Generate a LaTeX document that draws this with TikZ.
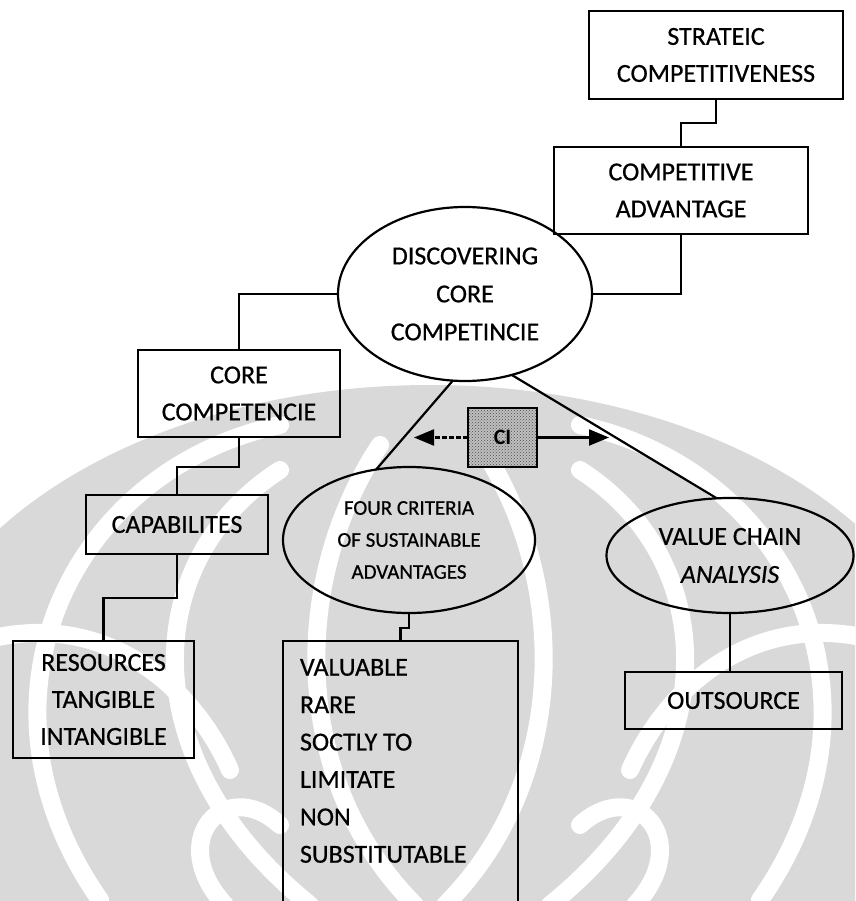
\documentclass[tikz,border=0pt]{standalone}
\usepackage{fontspec}
\setmainfont{Carlito}[UprightFeatures={FakeBold=0.6}, ItalicFeatures={FakeBold=0.6}]
\usetikzlibrary{shapes.geometric,arrows.meta,patterns}

\begin{document}
\begin{tikzpicture}[x=1pt,y=-1pt,
  line width=2.2pt,
  every node/.style={inner sep=0pt, outer sep=0pt},
  box/.style={draw, rectangle, align=center, font=\fontsize{26}{37}\selectfont},
  oval/.style={draw, ellipse, align=center, font=\fontsize{26}{38}\selectfont},
  link/.style={line width=2.2pt},
  tip/.style={-{Triangle[length=20pt,width=16pt]}},
  wm/.style={draw=white, line width=18pt, line cap=round},
]
\useasboundingbox (0,0) rectangle (855,901);
\clip (0,0) rectangle (855,901);

% light emblem in the background
\fill[black!15] (430,730) ellipse [x radius=530, y radius=345];
\foreach \s in {1,-1}{
  \begin{scope}[shift={(430,0)}, xscale=\s]
    \draw[wm] (-330,900) .. controls (-470,700) and (-360,470) .. (-150,425);
    \draw[wm] (-120,905) .. controls (-300,760) and (-290,560) .. (-150,470);
    \draw[wm] (-15,905) .. controls (-140,780) and (-140,580) .. (-50,445);
    \draw[wm] (-205,905) .. controls (-265,840) and (-205,775) .. (-150,825);
    \draw[wm] (-445,640) .. controls (-330,610) and (-240,680) .. (-200,770);
  \end{scope}
}

% boxes
\node[box, minimum width=254, minimum height=88] (strat) at (716,55)
  {STRATEIC\\COMPETITIVENESS};
\node[box, minimum width=254, minimum height=87] (comp) at (681,190.5)
  {COMPETITIVE\\ADVANTAGE};
\node[oval, minimum width=254, minimum height=174] (disc) at (465,294)
  {DISCOVERING\\CORE\\COMPETINCIE};
\node[box, minimum width=202, minimum height=87] (core) at (239,393.5)
  {CORE\\COMPETENCIE};
\node[box, minimum width=182, minimum height=59] (cap) at (177,524.5)
  {CAPABILITES};
\node[box, minimum width=181, minimum height=117] (res) at (103.5,699.5)
  {RESOURCES\\TANGIBLE\\INTANGIBLE};
\node[oval, minimum width=252, minimum height=146, font=\fontsize{21}{32}\selectfont]
  (four) at (409,540) {FOUR CRITERIA\\OF SUSTAINABLE\\ADVANTAGES};
\node[oval, minimum width=247, minimum height=115] (value) at (730,555.5)
  {VALUE CHAIN\\\textit{ANALYSIS}};
\node[box, minimum width=217, minimum height=57] (out) at (733.5,700.5)
  {OUTSOURCE};
\node[draw, rectangle, anchor=north west, minimum width=235, minimum height=300]
  (crit) at (283,641) {};
\node[anchor=north west, align=left, font=\fontsize{26}{37.4}\selectfont]
  (critlist) at (300,659)
  {VALUABLE\\RARE\\SOCTLY TO\\LIMITATE\\NON\\SUBSTITUTABLE};
\node[draw, rectangle, minimum width=69, minimum height=59,
  preaction={fill=black!25}, pattern=crosshatch dots, pattern color=black!70,
  font=\bfseries\fontsize{22}{22}\selectfont] (ci) at (502.5,437.5) {CI};

% arrow ends
\coordinate (lt) at (414,437.5);
\coordinate (rt) at (609,437.5);

% connectors
\draw[link] (strat.south) -- ++(0,24) -| (comp.north);
\draw[link] (comp.south) |- (disc.east);
\draw[link] (disc.west) -| (core.north);
\draw[link] (core.south) -- ++(0,30) -| (cap.north);
\draw[link] (cap.south) -- ++(0,44) -| (res.north);
\draw[link] (disc.262) -- (four.115);
\draw[link] (disc.300) -- (value.103);
\draw[link] (four.south) -- ++(0,15) -| (crit.north);
\draw[link] (value.south) -- (value.south |- out.north);
\draw[link, tip, dash pattern=on 5pt off 2pt] (ci.west) -- (lt);
\draw[link, tip] (ci.east) -- (rt);
\end{tikzpicture}
\end{document}
